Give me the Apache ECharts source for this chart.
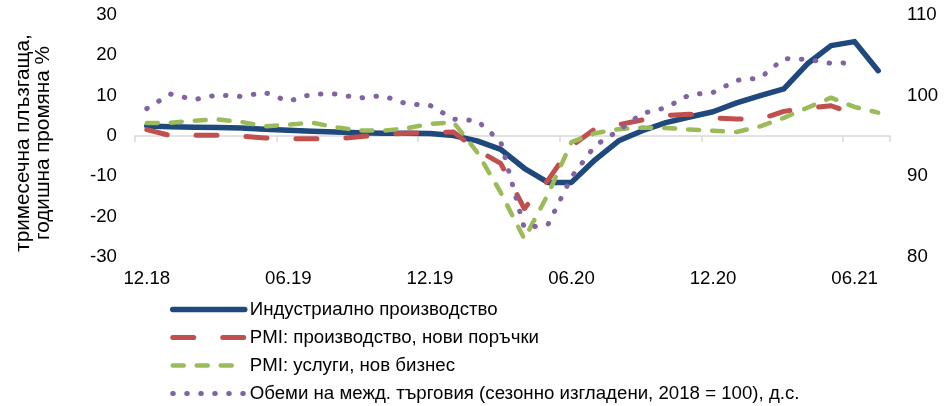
<!DOCTYPE html>
<html>
<head>
<meta charset="utf-8">
<script src="https://cdn.jsdelivr.net/npm/echarts@6/dist/echarts.min.js"></script>
<style>
  html, body { margin: 0; padding: 0; background: #ffffff; }
  #chart { width: 946px; height: 406px; }
</style>
</head>
<body>
<div id="chart"></div>
<script>
// Monthly periods, Dec 2018 – Jul 2021
const months = [
  '12.18',
  '01.19', '02.19', '03.19', '04.19', '05.19', '06.19', '07.19', '08.19', '09.19', '10.19', '11.19', '12.19',
  '01.20', '02.20', '03.20', '04.20', '05.20', '06.20', '07.20', '08.20', '09.20', '10.20', '11.20', '12.20',
  '01.21', '02.21', '03.21', '04.21', '05.21', '06.21', '07.21'
];

// Three-month moving, year-on-year change, %
const industry = [
  2.5, 2.3, 2.2, 2.1, 2.0, 1.7, 1.4, 1.2, 1.0, 0.8, 0.7, 0.7, 0.6,
  0.1, -1.2, -3.3, -8.0, -11.5, -11.5, -5.9, -1.2, 1.3, 3.3, 4.7, 6.0,
  8.2, 10.0, 11.7, 17.9, 22.4, 23.4, 16.2
];
const pmiManufacturing = [
  1.6, 0.1, 0.2, 0.2, 0.0, -0.5, -0.7, -0.7, -0.7, -0.2, 0.4, 0.7, 0.8,
  1.0, -3.5, -6.8, -18.0, -11.0, -2.5, 1.8, 2.8, 4.0, 5.1, 5.4, 4.5,
  4.2, 4.2, 6.1, 6.9, 7.5, 5.4, null
];
const pmiServices = [
  3.2, 3.3, 3.8, 4.1, 3.5, 2.4, 2.8, 3.3, 2.2, 1.4, 1.3, 1.9, 3.0,
  3.4, -4.0, -14.0, -25.5, -14.5, -1.5, 0.7, 1.7, 2.1, 2.0, 1.6, 1.3,
  1.0, 2.4, 4.5, 7.0, 9.5, 7.2, 5.8
];
// Trade volumes, seasonally adjusted, 2018 = 100 (right axis)
const tradeVolumes = [
  98.4, 100.2, 99.5, 100.1, 99.9, 100.4, 99.3, 100.2, 100.2, 99.7, 100.0, 99.0, 98.8,
  97.1, 96.9, 94.3, 83.6, 84.0, 89.9, 93.8, 95.7, 97.8, 98.5, 100.1, 100.4,
  101.9, 102.2, 104.6, 104.5, 104.0, 104.1, null
];

const seriesNames = [
  'Индустриално производство',
  'PMI: производство, нови поръчки',
  'PMI: услуги, нов бизнес',
  'Обеми на межд. търговия (сезонно изгладени, 2018 = 100), д.с.'
];

const leftAxisRange = { min: -30, max: 30, step: 10 };
const rightAxisRange = { min: 80, max: 110, step: 10 };
const yAxisTitle = 'тримесечна плъзгаща,\nгодишна промяна %';

const FONT = "'Liberation Sans', Arial, sans-serif";
const TEXT = '#000000';

const chart = echarts.init(document.getElementById('chart'), null, { renderer: 'canvas' });

chart.setOption({
  animation: false,
  backgroundColor: '#ffffff',
  textStyle: { fontFamily: FONT, color: TEXT },
  grid: { left: 135, right: 56, top: 15, bottom: 149, containLabel: false, outerBoundsMode: 'none' },
  // vertical title of the left axis
  graphic: [
    {
      type: 'text',
      x: 33,
      y: 143,
      rotation: Math.PI / 2,
      style: {
        text: yAxisTitle,
        fontFamily: FONT,
        fontSize: 20.7,
        lineHeight: 20,
        fill: TEXT,
        align: 'center',
        verticalAlign: 'middle'
      }
    }
  ],
  legend: {
    orient: 'vertical',
    left: 170,
    top: 300,
    height: 130,
    padding: 0,
    itemWidth: 72,
    itemHeight: 14,
    itemGap: 9,
    data: seriesNames,
    itemStyle: { opacity: 0 },
    lineStyle: { width: 'inherit', type: 'inherit', cap: 'inherit', join: 'inherit', color: 'inherit' },
    textStyle: { fontFamily: FONT, fontSize: 18.67, color: TEXT },
    selectedMode: false
  },
  xAxis: [
    {
      // labels along the bottom edge
      type: 'category',
      data: months,
      boundaryGap: true,
      position: 'bottom',
      axisLine: { show: false, onZero: false },
      axisTick: { show: false },
      splitLine: { show: false },
      axisLabel: { interval: 5, margin: 12, fontFamily: FONT, fontSize: 18.67, color: TEXT }
    },
    {
      // baseline through zero with period ticks
      type: 'category',
      data: months,
      boundaryGap: true,
      position: 'bottom',
      axisLine: { show: true, onZero: true, onZeroAxisIndex: 0, lineStyle: { color: '#d9d9d9', width: 1.5 } },
      axisTick: { show: true, interval: 5, length: 6, lineStyle: { color: '#d9d9d9', width: 1.5 } },
      axisLabel: { show: false },
      splitLine: { show: false }
    }
  ],
  yAxis: [
    {
      type: 'value',
      min: leftAxisRange.min,
      max: leftAxisRange.max,
      interval: leftAxisRange.step,
      position: 'left',
      axisLine: { show: false },
      axisTick: { show: false },
      splitLine: { show: false },
      axisLabel: { margin: 18, fontFamily: FONT, fontSize: 18.67, color: TEXT }
    },
    {
      type: 'value',
      min: rightAxisRange.min,
      max: rightAxisRange.max,
      interval: rightAxisRange.step,
      position: 'right',
      axisLine: { show: false },
      axisTick: { show: false },
      splitLine: { show: false },
      axisLabel: { margin: 17, fontFamily: FONT, fontSize: 18.67, color: TEXT }
    }
  ],
  series: [
    {
      name: seriesNames[0],
      type: 'line',
      data: industry,
      xAxisIndex: 0,
      yAxisIndex: 0,
      symbol: 'none',
      color: '#1f497d',
      lineStyle: { color: '#1f497d', width: 5.5, cap: 'round', join: 'round' }
    },
    {
      name: seriesNames[1],
      type: 'line',
      data: pmiManufacturing,
      xAxisIndex: 0,
      yAxisIndex: 0,
      symbol: 'none',
      color: '#c0504d',
      lineStyle: { color: '#c0504d', width: 5, type: [21, 29], cap: 'round', join: 'round' }
    },
    {
      name: seriesNames[2],
      type: 'line',
      data: pmiServices,
      xAxisIndex: 0,
      yAxisIndex: 0,
      symbol: 'none',
      color: '#9bbb59',
      lineStyle: { color: '#9bbb59', width: 4.5, type: [11, 13], cap: 'round', join: 'round' }
    },
    {
      name: seriesNames[3],
      type: 'line',
      data: tradeVolumes,
      xAxisIndex: 0,
      yAxisIndex: 1,
      symbol: 'none',
      color: '#8064a2',
      lineStyle: { color: '#8064a2', width: 5, type: [0.5, 13.5], cap: 'round', join: 'round' }
    }
  ]
});
</script>
</body>
</html>
